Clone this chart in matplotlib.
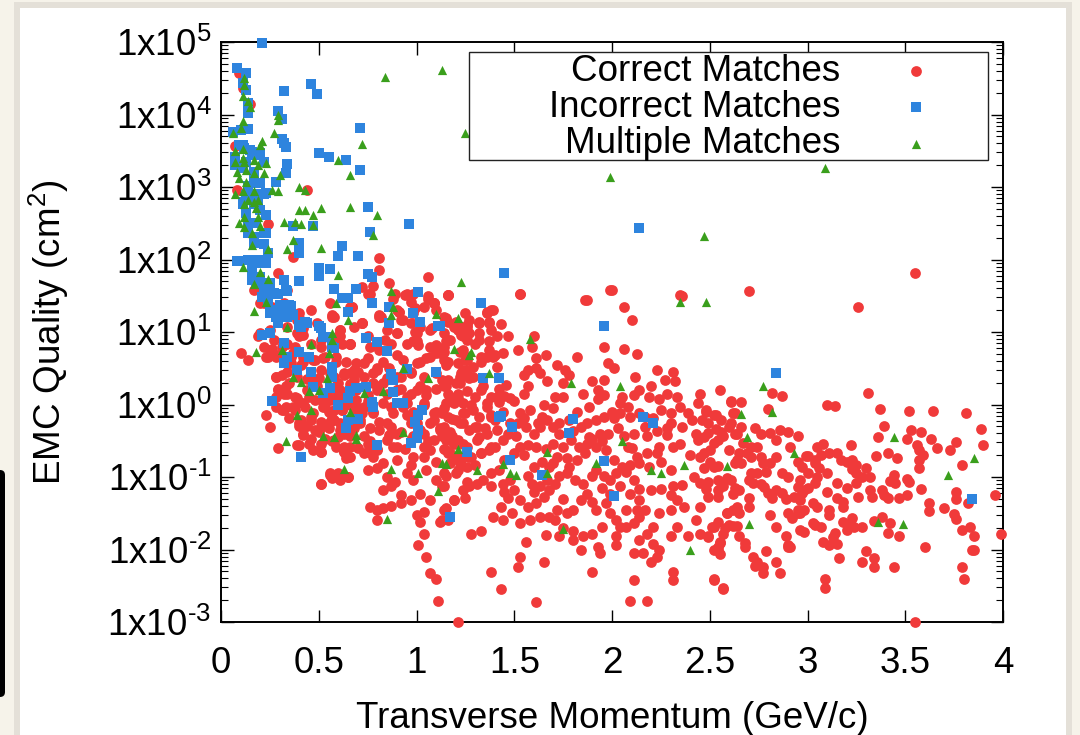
import numpy as np
import matplotlib.pyplot as plt
from matplotlib.patches import Rectangle, FancyBboxPatch
from matplotlib.ticker import LogLocator, FuncFormatter, NullFormatter

plt.rcParams['font.family'] = ['Liberation Sans', 'DejaVu Sans']
plt.rcParams['mathtext.default'] = 'regular'

# (transverse momentum [GeV/c], log10 of EMC quality [cm^2])
correct = [
    # high outliers / upper left
    (0.09, 4.57), (0.11, 4.36), (0.15, 4.15), (0.07, 3.57), (0.08, 2.96), (0.44, 2.96), (0.24, 2.49),
    (0.37, 2.03), (0.81, 2.02), (0.29, 1.82), (0.81, 1.86), (1.06, 1.76), (0.86, 1.67), (0.78, 1.64),
    (0.72, 1.62), (0.76, 1.53), (0.89, 1.53), (0.94, 1.51), (0.98, 1.53), (1.16, 1.51), (1.06, 1.46),
    (1.09, 1.40), (0.82, 1.21), (0.91, 1.28), (0.99, 1.33), (0.72, 1.12), (0.57, 1.23), (0.67, 1.35),
    (0.34, 1.58), (0.20, 1.40), (0.40, 1.19), (1.21, 1.10), (1.26, 1.10), (0.17, 1.58), (1.53, 1.52),
    (1.87, 1.44), (2.00, 1.58), (2.36, 1.50), (2.70, 1.57), (3.26, 1.34), (3.55, 1.81), (1.21, -3.00),
    (3.55, -3.00),
    # left cluster
    (0.32, 1.40), (0.57, 1.21), (0.61, 1.03), (0.60, 0.94), (0.66, 0.83), (0.39, 0.98), (0.31, 0.80),
    (0.26, 0.77), (0.19, 0.94), (0.24, 0.66), (0.28, 0.66), (0.10, 0.71), (0.14, 0.61), (0.42, 0.96),
    (0.38, 0.80), (0.36, 0.66), (0.42, 0.66), (0.48, 0.61), (0.53, 0.66), (0.51, 0.80), (0.57, 0.87),
    (0.62, 0.84), (0.28, 0.38), (0.31, 0.41), (0.36, 0.57), (0.41, 0.55), (0.29, 0.20), (0.32, 0.15),
    (0.28, 0.11), (0.33, -0.03), (0.28, -0.03), (0.31, -0.08), (0.38, 0.11), (0.40, 0.04), (0.38, -0.08),
    (0.43, -0.03), (0.48, 0.06), (0.53, -0.03), (0.57, 0.09), (0.62, -0.08), (0.41, -0.21), (0.46, -0.17),
    (0.51, -0.24), (0.57, -0.19), (0.61, -0.26), (0.48, -0.35), (0.42, -0.40), (0.53, -0.47), (0.57, -0.51),
    (0.45, -0.54), (0.47, -0.63), (0.51, -0.65), (0.40, -0.56), (0.63, -0.65), (0.64, -0.74), (0.23, -0.14),
    (0.25, -0.31), (0.29, -0.60), (0.39, -0.56), (0.56, -0.97), (0.61, -0.97), (0.65, -1.00), (0.61, -1.04),
    (0.51, -1.10), (0.32, -0.08), (0.40, -0.30), (0.42, -0.42),
    # 0.2 - 1.3 GeV/c band
    (0.22, 1.40), (0.26, 1.35), (0.31, 1.37), (0.40, 1.26), (0.46, 1.30), (0.56, 1.40), (0.66, 1.35),
    (0.72, 1.12), (0.81, 1.21), (0.90, 1.30), (0.93, 1.17), (0.98, 1.26), (1.04, 1.35), (1.09, 1.40),
    (1.14, 1.21), (1.21, 1.07), (1.25, 1.26),
    (0.20, 0.98), (0.25, 1.03), (0.34, 1.07), (0.39, 1.17), (0.42, 1.05), (0.49, 1.12), (0.61, 1.03),
    (0.68, 1.07), (0.75, 0.94), (0.85, 1.03), (0.90, 0.98), (0.97, 1.12), (1.00, 0.98), (1.07, 1.03),
    (1.14, 0.98), (1.19, 1.07), (1.24, 0.94),
    (0.22, 0.80), (0.25, 0.75), (0.27, 0.89), (0.34, 0.84), (0.40, 0.94), (0.46, 0.84), (0.51, 0.89),
    (0.58, 0.91), (0.66, 0.84), (0.76, 0.80), (0.81, 0.75), (0.87, 0.84), (0.95, 0.84), (1.00, 0.87),
    (1.07, 0.80), (1.14, 0.80), (1.17, 0.89), (1.24, 0.75),
    (0.23, 0.66), (0.29, 0.68), (0.37, 0.71), (0.42, 0.59), (0.47, 0.61), (0.52, 0.64), (0.59, 0.66),
    (0.64, 0.59), (0.69, 0.57), (0.75, 0.64), (0.83, 0.59), (0.90, 0.68), (0.93, 0.61), (1.00, 0.57),
    (1.05, 0.64), (1.10, 0.71), (1.14, 0.61), (1.21, 0.57), (1.26, 0.66),
    (0.28, 0.38), (0.34, 0.45), (0.39, 0.38), (0.46, 0.34), (0.51, 0.48), (0.56, 0.43), (0.63, 0.41),
    (0.68, 0.48), (0.73, 0.38), (0.80, 0.48), (0.85, 0.36), (0.92, 0.38), (0.97, 0.45), (1.04, 0.38),
    (1.10, 0.43), (1.16, 0.34), (1.22, 0.29), (1.26, 0.48),
    (0.29, 0.22), (0.34, 0.15), (0.39, 0.09), (0.44, 0.20), (0.49, 0.25), (0.54, 0.15), (0.59, 0.22),
    (0.64, 0.11), (0.69, 0.20), (0.75, 0.13), (0.80, 0.25), (0.85, 0.15), (0.90, 0.20), (0.95, 0.11),
    (1.00, 0.20), (1.05, 0.13), (1.10, 0.22), (1.16, 0.15), (1.21, 0.09), (1.26, 0.18),
    (0.37, -0.03), (0.42, 0.02), (0.47, -0.12), (0.52, -0.03), (0.58, -0.08), (0.63, 0.02), (0.68, -0.12),
    (0.73, -0.03), (0.78, -0.10), (0.83, 0.02), (0.88, -0.12), (0.93, -0.03), (0.98, -0.10), (1.04, -0.01),
    (1.09, -0.12), (1.14, -0.05), (1.19, 0.02), (1.24, -0.12),
    (0.40, -0.26), (0.46, -0.21), (0.51, -0.31), (0.56, -0.24), (0.61, -0.35), (0.66, -0.26), (0.71, -0.21),
    (0.76, -0.33), (0.81, -0.24), (0.87, -0.31), (0.92, -0.38), (0.97, -0.26), (1.02, -0.35), (1.07, -0.26),
    (1.12, -0.33), (1.17, -0.38), (1.22, -0.26), (1.27, -0.35),
    (0.46, -0.47), (0.51, -0.54), (0.58, -0.49), (0.63, -0.58), (0.66, -0.44), (0.75, -0.54), (0.80, -0.61),
    (0.85, -0.49), (0.90, -0.58), (0.98, -0.44), (1.04, -0.58), (1.09, -0.49), (1.14, -0.61), (1.19, -0.54),
    (1.26, -0.58),
    (0.51, -0.65), (0.63, -0.65), (0.65, -0.72), (0.75, -0.65), (0.78, -0.72), (0.83, -0.81), (0.90, -0.77),
    (0.97, -0.83), (1.04, -0.72), (1.10, -0.79), (1.17, -0.67), (1.22, -0.81), (1.27, -0.72),
    (0.56, -0.95), (0.57, -1.02), (0.60, -0.95), (0.65, -1.00), (0.75, -0.90), (0.80, -0.88), (0.85, -1.00),
    (0.89, -1.07), (0.95, -0.95), (0.98, -1.04), (1.05, -0.90), (1.10, -1.04), (1.14, -0.95), (1.21, -0.90),
    (1.26, -1.07),
    (0.51, -1.10), (0.83, -1.18), (0.87, -1.13), (0.92, -1.25), (0.97, -1.32), (1.02, -1.23), (1.07, -1.32),
    (1.14, -1.13), (1.19, -1.32), (1.24, -1.18),
    (0.76, -1.41), (0.80, -1.46), (0.83, -1.43), (0.87, -1.40), (0.92, -1.36), (1.00, -1.52), (1.04, -1.48),
    (1.14, -1.46), (1.16, -1.59), (1.12, -1.62),
    (0.80, -1.59), (1.02, -1.62), (1.04, -1.78), (1.01, -1.94), (1.05, -2.11), (1.07, -2.32), (1.10, -2.41),
    (1.11, -2.71),
    # 0.55 - 1.4 GeV/c, upper part
    (0.75, 1.53), (0.88, 1.46), (0.95, 1.53), (1.06, 1.49), (1.16, 1.51), (0.67, 1.35), (0.81, 1.23),
    (0.91, 1.28), (0.97, 1.42), (1.09, 1.40), (1.10, 1.30), (1.36, 1.28), (1.39, 1.30), (1.27, 1.17),
    (1.32, 1.14), (0.92, 1.17), (1.02, 1.07), (1.08, 1.05), (1.16, 1.14), (0.58, 1.21), (0.72, 1.12),
    (1.37, 1.14),
    (0.66, 0.84), (0.84, 0.89), (0.90, 0.98), (0.99, 1.00), (0.98, 0.87), (1.01, 0.82), (1.10, 0.82),
    (1.16, 0.89), (1.22, 1.07), (1.27, 0.98), (1.32, 0.89), (1.38, 1.03), (1.41, 0.94), (1.22, 0.73),
    (1.26, 0.61), (1.29, 0.52), (1.33, 0.66), (1.39, 0.66), (1.41, 0.52), (1.07, 0.66), (1.12, 0.71),
    (1.16, 0.59), (1.02, 0.59), (0.97, 0.43), (0.90, 0.38), (0.80, 0.50), (0.73, 0.57), (0.66, 0.43),
    (0.59, 0.59), (0.61, 0.94), (1.23, 0.43), (1.27, 0.36), (1.34, 0.25),
    (0.58, 0.38), (0.63, 0.43), (0.68, 0.34), (0.78, 0.43), (0.83, 0.29), (0.61, 0.20), (0.56, 0.06),
    (0.62, -0.08), (0.69, 0.06), (0.80, 0.20), (0.90, 0.20), (0.97, 0.15), (1.02, 0.25), (1.05, 0.20),
    (1.14, 0.25), (1.17, 0.11), (1.24, 0.02), (1.29, -0.08), (1.36, 0.02), (1.38, -0.17), (1.31, -0.31),
    (1.24, -0.26), (1.16, -0.17), (1.09, -0.21), (1.04, 0.02), (0.95, 0.02), (0.87, -0.03), (0.78, -0.12),
    (0.71, -0.26), (0.63, -0.40), (0.59, -0.58), (0.66, -0.58), (0.73, -0.44), (0.81, -0.35), (0.90, -0.40),
    (0.97, -0.49), (1.04, -0.40), (1.12, -0.35), (1.17, -0.49), (1.24, -0.54), (1.31, -0.49), (1.36, -0.40),
    (1.41, -0.35), (1.38, -0.58), (1.33, -0.67), (1.24, -0.72), (1.16, -0.67), (1.07, -0.63), (0.98, -0.72),
    (0.88, -0.58), (0.80, -0.63), (0.73, -0.67), (0.66, -0.72), (0.58, -0.21), (1.00, -0.26), (0.85, -0.26),
    (1.41, 0.11),
    # dense core, extra points
    (0.35, 0.30), (0.44, 0.35), (0.50, 0.36), (0.60, 0.30), (0.66, 0.28), (0.33, 0.25), (0.45, 0.10),
    (0.52, 0.05), (0.55, -0.10), (0.60, 0.12), (0.66, 0.00), (0.70, -0.05), (0.35, -0.18), (0.44, -0.30),
    (0.50, -0.38), (0.55, -0.33), (0.60, -0.45), (0.68, -0.33), (0.72, -0.12), (0.75, 0.05), (0.78, 0.30),
    (0.70, 0.45), (0.86, 0.50), (0.92, 0.22), (0.95, -0.15), (0.86, -0.42), (0.76, -0.50), (0.70, -0.60),
    (0.94, -0.62), (1.06, -0.50), (1.10, -0.10), (1.20, 0.30), (1.18, -0.20), (1.30, 0.10), (1.32, -0.45),
    (1.45, 0.12), (1.50, 0.05), (1.55, 0.15), (1.48, -0.25), (1.62, -0.25), (1.70, -0.05), (1.75, 0.10),
    (1.85, 0.15), (1.88, -0.45), (1.95, -0.50), (2.00, -0.10), (2.05, 0.10), (2.20, 0.25), (2.28, 0.15),
    (2.10, -0.60), (2.35, -0.55), (2.40, -0.70), (2.30, -0.90), (2.42, -1.00), (1.70, -0.80), (1.55, -0.70),
    (1.45, -1.20), (1.60, -1.20), (1.75, -1.30), (1.95, -1.15), (2.30, -0.25), (2.45, 0.15), (2.55, 0.20),
    # 1.1 - 2.65 GeV/c
    (1.16, 1.51), (1.53, 1.52), (1.86, 1.44), (1.99, 1.58), (2.06, 1.34), (2.10, 1.17), (2.35, 1.51),
    (1.38, 1.31), (1.36, 1.26), (1.43, 1.11), (1.32, 1.13), (1.37, 1.12), (1.26, 1.07), (1.15, 1.20),
    (1.20, 1.14), (1.21, 1.03), (1.23, 0.96), (1.15, 0.88), (1.26, 0.89), (1.30, 0.84), (1.37, 0.87),
    (1.32, 0.98), (1.47, 0.94), (1.60, 0.94), (1.59, 0.80), (1.52, 0.75), (1.37, 0.75), (1.36, 0.66),
    (1.40, 0.68), (1.44, 0.71), (1.33, 0.59), (1.25, 0.61), (1.24, 0.48), (1.29, 0.38), (1.22, 0.38),
    (1.15, 0.54), (1.14, 0.73), (1.13, 0.34), (1.15, 0.25), (1.21, 0.15), (1.17, 0.11), (1.15, 0.02),
    (1.13, -0.12), (1.14, -0.31), (1.20, -0.21), (1.25, -0.12), (1.28, -0.01), (1.33, 0.20), (1.38, 0.11),
    (1.42, 0.22), (1.46, 0.27), (1.48, 0.09), (1.42, 0.04), (1.36, -0.03), (1.32, -0.17), (1.30, -0.31),
    (1.35, -0.33), (1.38, -0.15), (1.40, -0.21), (1.44, -0.10), (1.53, -0.12), (1.52, -0.26), (1.56, -0.31),
    (1.55, -0.19), (1.58, -0.08), (1.64, -0.17), (1.65, -0.01), (1.71, 0.11), (1.75, 0.29), (1.78, 0.41),
    (1.76, 0.48), (1.72, 0.55), (1.66, 0.68), (1.61, 0.64), (1.61, 0.50), (1.63, 0.43), (1.67, 0.32),
    (1.57, 0.25), (1.55, 0.41), (1.57, 0.48), (1.82, 0.65), (1.90, 0.33), (1.96, 0.34), (1.93, 0.20),
    (1.96, 0.13), (1.98, 0.57), (2.01, 0.50), (1.96, 0.80), (2.06, 0.77), (2.13, 0.70), (2.23, 0.48),
    (2.31, 0.45), (2.32, 0.32), (2.27, 0.34), (2.12, 0.38), (2.14, 0.20), (2.11, 0.13), (2.19, 0.11),
    (2.24, 0.08), (2.33, 0.11), (2.35, -0.04), (2.30, -0.12), (2.25, -0.08), (2.21, -0.19), (2.17, -0.31),
    (2.18, -0.44), (2.23, -0.37), (2.28, -0.33), (2.28, -0.42), (2.31, -0.58), (2.24, -0.58), (2.23, -0.67),
    (2.25, -0.79), (2.19, -0.86), (2.14, -0.81), (2.18, -0.67), (2.13, -0.72), (2.09, -0.84), (2.07, -0.93),
    (2.11, -1.04), (2.14, -1.16), (2.20, -1.18), (2.25, -1.16), (2.31, -1.13), (2.36, -1.11), (2.30, -1.25),
    (2.33, -1.32), (2.37, -1.41), (2.30, -1.46), (2.24, -1.50), (2.21, -1.69), (2.18, -1.78), (2.14, -1.87),
    (2.21, -1.92), (2.24, -2.01), (2.16, -2.05), (2.11, -2.05), (2.20, -2.17), (2.23, -2.10), (2.30, -1.82),
    (2.33, -1.69), (2.39, -1.82), (2.43, -1.59), (2.45, -1.78), (2.52, -1.69), (2.54, -1.96), (2.57, -1.78),
    (2.52, -2.01), (2.49, -1.82), (2.55, -1.89), (2.60, -1.66), (2.62, -1.46), (2.59, -1.50), (2.54, -1.27),
    (2.57, -1.13), (2.62, -1.23), (2.61, -1.04), (2.59, -1.02), (2.54, -1.04), (2.48, -1.16), (2.52, -0.86),
    (2.50, -0.79), (2.47, -0.67), (2.44, -0.49), (2.43, -0.40), (2.41, -0.21), (2.36, -0.31), (2.39, -0.12),
    (2.44, 0.02), (2.48, -0.08), (2.53, -0.14), (2.56, -0.21), (2.60, -0.31), (2.63, -0.12), (2.61, 0.04),
    (2.54, -0.49), (2.57, -0.44), (2.60, -0.63), (2.63, -0.81), (2.64, -0.40),
    (1.13, -0.44), (1.15, -0.49), (1.18, -0.44), (1.21, -0.49), (1.15, -0.63), (1.20, -0.72), (1.22, -0.79),
    (1.17, -0.81), (1.15, -0.99), (1.13, -1.13), (1.20, -0.95), (1.26, -0.86), (1.30, -0.83), (1.28, -0.72),
    (1.33, -0.67), (1.37, -0.63), (1.40, -0.58), (1.44, -0.49), (1.47, -0.40), (1.51, -0.44), (1.53, -0.58),
    (1.50, -0.67), (1.45, -0.77), (1.42, -0.90), (1.38, -0.95), (1.34, -1.04), (1.31, -1.09), (1.27, -1.13),
    (1.25, -1.29), (1.19, -1.32), (1.15, -1.43), (1.13, -1.59), (1.38, -1.13), (1.44, -1.09), (1.48, -1.04),
    (1.50, -1.18), (1.47, -1.29), (1.53, -1.32), (1.57, -1.41), (1.61, -1.36), (1.65, -1.27), (1.68, -1.18),
    (1.71, -1.09), (1.73, -0.99), (1.68, -0.86), (1.64, -0.79), (1.60, -0.86), (1.57, -0.99), (1.59, -1.09),
    (1.63, -1.13), (1.67, -1.04), (1.72, -0.72), (1.75, -0.58), (1.79, -0.49), (1.83, -0.58), (1.87, -0.54),
    (1.86, -0.67), (1.82, -0.77), (1.78, -0.86), (1.77, -0.95), (1.81, -1.04), (1.85, -1.09), (1.90, -0.99),
    (1.92, -0.90), (1.96, -0.99), (1.99, -1.04), (2.02, -0.95), (2.05, -0.86), (2.01, -0.77), (1.97, -0.63),
    (1.92, -0.58), (1.90, -0.47), (1.94, -0.40), (1.98, -0.40), (2.03, -0.33), (2.06, -0.44), (2.08, -0.58),
    (2.11, -0.40), (2.09, -0.17), (2.04, -0.12), (2.01, -0.19), (1.96, -0.17), (1.92, -0.21), (1.87, -0.26),
    (1.84, -0.31), (1.80, -0.37), (1.73, -0.40), (1.70, -0.31), (1.67, -0.21), (1.63, -0.31), (1.60, -0.40),
    (1.57, -0.56), (1.61, -0.58), (1.66, -0.61), (1.70, -0.54), (1.77, -0.74), (1.73, -0.26), (1.78, -0.21),
    (1.82, -0.10), (1.88, -0.03), (1.93, 0.08), (2.04, 0.02), (2.08, -0.03), (2.14, -0.12), (2.17, -0.17),
    (1.87, -1.23), (1.90, -1.34), (1.84, -1.32), (1.80, -1.46), (1.77, -1.50), (1.72, -1.46), (1.68, -1.55),
    (1.63, -1.55), (1.58, -1.59), (1.53, -1.64), (1.49, -1.50), (1.44, -1.59), (1.39, -1.55), (1.33, -1.75),
    (1.28, -1.78), (1.43, -1.41), (1.92, -1.46), (1.97, -1.36), (1.99, -1.50), (1.95, -1.69), (1.90, -1.78),
    (1.85, -1.82), (1.80, -1.87), (1.75, -1.71), (1.71, -1.59), (1.73, -1.82), (1.80, -1.75), (2.02, -1.59),
    (2.04, -1.69), (2.02, -1.82), (2.02, -1.94), (2.07, -1.46), (2.13, -1.46), (2.07, -1.69), (2.14, -1.55),
    (2.11, -1.64), (1.99, -1.23), (2.04, -1.13), (2.09, -1.23), (2.14, -1.32), (2.17, -1.46), (1.93, -1.96),
    (1.84, -2.01), (1.94, -2.05), (1.56, -1.89), (1.53, -2.10), (1.52, -2.24), (1.66, -1.80), (1.65, -2.17),
    (1.38, -2.31), (1.43, -2.54), (1.61, -2.72), (1.90, -2.31), (2.09, -2.71), (2.18, -2.71), (2.11, -2.42),
    (2.31, -2.31), (2.31, -2.42), (2.52, -2.42), (2.57, -2.54),
    # 2.45 - 4 GeV/c
    (2.82, 0.16), (2.87, 0.12), (2.61, 0.05), (2.66, 0.03), (2.80, -0.06), (3.31, 0.16), (3.10, -0.01),
    (3.14, -0.02), (3.37, -0.06), (3.52, -0.09), (3.64, -0.09), (3.81, -0.12), (3.39, -0.30), (3.89, -0.34),
    (3.90, -0.56), (3.53, -0.35), (3.58, -0.38), (3.63, -0.48), (3.66, -0.60), (3.73, -0.63), (3.76, -0.52),
    (3.79, -0.83), (3.51, -0.48), (3.56, -0.56), (3.57, -0.63), (3.59, -0.70), (3.57, -0.77), (3.57, -0.88),
    (3.36, -0.45), (3.41, -0.67), (3.46, -0.74), (3.22, -0.56), (3.35, -0.71), (3.44, -0.97), (3.45, -1.08),
    (3.42, -1.06), (3.51, -1.03), (3.52, -1.07), (3.58, -1.17), (3.47, -1.29), (3.51, -1.25), (3.76, -1.21),
    (3.76, -1.30), (3.82, -1.36), (3.62, -1.36), (3.62, -1.47), (3.70, -1.43), (3.75, -1.51), (3.76, -1.58),
    (3.79, -1.73), (3.83, -1.69), (3.85, -1.81), (3.60, -1.97), (3.79, -2.24), (3.80, -2.41), (3.84, -2.01),
    (3.85, -2.01), (3.99, -1.79), (3.96, -1.25),
    (3.08, -0.54), (3.11, -0.67), (3.07, -0.70), (3.04, -0.77), (3.00, -0.71), (2.95, -0.79), (2.97, -0.86),
    (3.15, -0.67), (3.17, -0.77), (3.20, -0.79), (3.23, -0.89), (3.25, -0.94), (3.28, -1.00), (3.32, -1.00),
    (3.30, -0.88), (3.25, -0.83), (3.23, -0.77), (3.15, -1.08), (3.20, -1.15), (3.25, -1.08), (3.26, -1.28),
    (3.32, -1.18), (3.33, -1.28), (3.38, -1.18), (3.39, -1.25), (3.41, -1.29), (3.10, -1.21), (3.15, -1.29),
    (3.18, -1.34), (3.18, -1.41), (3.11, -1.46), (3.11, -1.52), (3.05, -1.41), (3.03, -1.36), (2.98, -1.46),
    (2.95, -1.50), (2.92, -1.57), (2.90, -1.50), (3.18, -1.62), (3.22, -1.66), (3.20, -1.73), (3.23, -1.57),
    (3.24, -1.69), (3.28, -1.69), (3.34, -1.61), (3.38, -1.55), (3.42, -1.63), (3.41, -1.77), (3.47, -1.81),
    (3.03, -1.63), (3.07, -1.69), (3.08, -1.90), (3.11, -1.94), (3.15, -1.92), (3.16, -2.12), (3.14, -1.77),
    (3.13, -1.83), (3.30, -2.02), (3.28, -2.17), (3.34, -2.12), (3.34, -2.24), (3.44, -2.24), (3.09, -2.41),
    (3.09, -2.53),
    (2.48, -0.10), (2.52, -0.14), (2.49, -0.26), (2.46, -0.21), (2.53, -0.34), (2.56, -0.38), (2.49, -0.39),
    (2.47, -0.45), (2.52, -0.53), (2.50, -0.63), (2.45, -0.72), (2.47, -0.88), (2.54, -0.85), (2.61, -0.26),
    (2.63, -0.41), (2.62, -0.12), (2.66, -0.31), (2.67, -0.53), (2.71, -0.59), (2.73, -0.32), (2.76, -0.41),
    (2.65, -0.67), (2.69, -0.67), (2.64, -0.77), (2.66, -0.81), (2.71, -0.72), (2.76, -0.72), (2.74, -0.59),
    (2.81, -0.39), (2.86, -0.35), (2.90, -0.38), (2.95, -0.43), (2.84, -0.49), (2.91, -0.59), (2.84, -0.72),
    (2.81, -0.81), (2.77, -0.81), (2.79, -0.93), (2.74, -0.94), (2.71, -0.94), (2.70, -1.04), (2.72, -1.08),
    (2.76, -1.10), (2.78, -1.14), (2.80, -1.22), (2.82, -1.29), (2.84, -1.18), (2.87, -1.22), (2.89, -1.30),
    (2.87, -0.94), (2.90, -1.00), (2.99, -0.71), (3.04, -0.81), (3.05, -1.00), (3.00, -0.94), (2.96, -1.04),
    (2.95, -1.14), (2.98, -1.18), (2.97, -1.22), (2.93, -1.28), (2.96, -1.32), (3.00, -1.15), (3.04, -1.08),
    (3.06, -0.88), (3.10, -0.94), (3.05, -0.59),
    (2.45, -1.08), (2.49, -1.07), (2.49, -1.28), (2.45, -1.41), (2.54, -1.18), (2.56, -1.08), (2.63, -1.15),
    (2.65, -1.18), (2.70, -1.29), (2.59, -1.50), (2.64, -1.41), (2.65, -1.50), (2.70, -1.41), (2.64, -1.68),
    (2.62, -1.68), (2.81, -1.52), (2.84, -1.69), (2.89, -1.81), (2.91, -1.97), (2.90, -1.94), (2.95, -1.46),
    (2.96, -1.50), (2.96, -1.73), (2.98, -1.76), (3.04, -1.66),
    (2.51, -1.69), (2.54, -1.62), (2.58, -1.70), (2.49, -1.83), (2.55, -1.91), (2.54, -2.01), (2.55, -2.06),
    (2.65, -1.81), (2.68, -1.91), (2.68, -1.97), (2.72, -2.10), (2.74, -2.17), (2.73, -2.23), (2.77, -2.24),
    (2.77, -2.32), (2.79, -2.02), (2.84, -2.17), (2.86, -2.32), (2.52, -2.41), (2.57, -2.53), (2.90, -1.97),
]

incorrect = [
    (0.21, 4.99), (0.08, 4.64), (0.13, 4.57), (0.11, 4.43), (0.13, 4.34), (0.46, 4.42), (0.49, 4.28),
    (0.32, 4.32), (0.14, 4.16), (0.29, 4.05), (0.31, 3.94), (0.14, 4.02), (0.06, 3.76), (0.10, 3.79),
    (0.14, 3.80), (0.71, 3.81), (0.31, 3.66), (0.32, 3.61), (0.33, 3.55), (0.50, 3.47), (0.55, 3.41),
    (0.64, 3.37), (0.71, 3.23), (0.34, 3.32), (0.33, 3.19), (0.28, 3.07),
    (0.09, 3.58), (0.12, 3.54), (0.16, 3.48), (0.20, 3.47), (0.07, 3.30), (0.11, 3.26), (0.17, 3.21),
    (0.18, 3.06), (0.23, 2.92), (0.13, 2.89), (0.11, 2.79), (0.19, 2.79),
    (0.11, 3.58), (0.15, 3.51), (0.18, 3.44), (0.22, 3.35), (0.13, 3.35), (0.07, 3.42), (0.11, 3.28),
    (0.17, 3.10), (0.14, 3.01), (0.20, 3.05), (0.18, 2.91), (0.22, 2.91), (0.11, 2.77), (0.17, 2.77),
    (0.13, 2.64), (0.20, 2.68), (0.23, 2.61), (0.14, 2.50), (0.18, 2.50), (0.23, 2.36), (0.17, 2.31),
    (0.22, 2.22), (0.24, 2.09), (0.14, 1.99), (0.18, 1.95), (0.23, 1.95), (0.16, 1.81), (0.20, 1.76),
    (0.25, 1.67), (0.22, 1.53), (0.29, 1.53), (0.34, 1.56), (0.24, 1.42), (0.30, 1.37), (0.35, 1.37),
    (0.25, 1.26), (0.32, 1.24), (0.37, 1.24), (0.29, 1.12), (0.40, 1.10), (0.44, 1.12),
    (0.75, 2.72), (0.96, 2.49), (0.37, 2.46), (0.47, 2.46), (0.76, 2.38), (0.40, 2.23), (0.40, 2.09),
    (0.62, 2.19), (0.60, 2.05), (0.70, 2.05), (0.08, 1.98), (0.50, 1.88), (0.50, 1.77), (0.56, 1.87),
    (0.40, 1.70), (0.75, 1.80), (0.77, 1.76), (0.58, 1.59), (0.69, 1.59), (0.62, 1.47), (0.65, 1.47),
    (0.77, 1.40), (1.01, 1.55), (0.65, 1.28), (0.86, 1.12), (0.98, 1.26), (1.02, 1.14), (1.11, 1.08),
    (0.50, 1.08),
    (0.14, 2.37), (0.22, 2.37), (0.17, 2.23), (0.09, 1.98), (0.15, 2.00), (0.19, 2.00), (0.16, 1.86),
    (0.21, 1.95), (0.16, 1.72), (0.18, 1.68), (0.22, 1.62), (0.21, 1.48), (0.27, 1.54), (0.33, 1.58),
    (0.32, 1.72), (0.25, 1.30), (0.30, 1.34), (0.36, 1.36), (0.28, 1.21), (0.34, 1.21), (0.21, 0.96),
    (0.25, 0.99), (0.43, 1.14), (0.41, 1.07), (0.32, 0.85), (0.34, 0.66), (0.40, 0.72), (0.45, 0.66),
    (0.51, 1.06), (0.55, 0.93), (0.52, 0.93), (0.57, 0.79),
    (0.26, 0.05), (0.41, -0.72), (0.32, 0.57), (0.39, 0.48), (0.46, 0.45), (0.57, 0.52), (0.57, 0.38),
    (0.47, 0.24), (0.56, 0.23), (0.52, 0.16), (0.60, 0.00), (0.66, 0.18), (0.65, -0.21), (0.64, -0.32),
    (0.86, 1.35), (0.74, 0.92), (0.80, 0.86), (0.85, 0.74), (0.58, 0.78), (0.87, 0.42), (0.88, 0.34),
    (0.95, 0.49), (1.10, 0.45), (1.34, 0.36), (1.42, 0.36), (0.69, 0.23), (0.74, 0.24), (0.65, 0.09),
    (0.77, 0.03), (0.78, -0.04), (0.88, 0.17), (0.90, 0.02), (0.93, 0.02), (1.03, -0.08), (1.01, -0.15),
    (0.70, -0.20), (0.99, -0.24), (1.01, -0.35), (1.00, -0.46), (0.97, -0.53), (0.80, -0.56), (1.42, -0.17),
    (1.33, 1.40), (1.96, 1.08), (1.43, -0.16), (1.49, -0.31), (1.80, -0.20), (1.78, -0.39), (2.16, -0.17),
    (2.21, -0.26), (1.26, -0.66), (1.48, -0.77), (1.64, -0.97), (1.96, -0.78), (2.01, -1.26), (1.17, -1.55),
    (1.12, 1.08), (2.14, 2.43), (1.45, 1.81), (2.84, 0.44), (3.84, -1.30),
]

multiple = [
    (1.13, 4.62), (0.84, 4.52), (1.25, 3.74), (1.99, 3.14), (3.09, 3.26), (2.47, 2.32), (1.23, 1.69),
    (2.35, 1.42), (2.48, 1.42),
    (0.12, 4.50), (0.12, 4.41), (0.11, 4.25), (0.14, 4.18), (0.15, 4.11), (0.29, 3.99), (0.29, 3.93),
    (0.11, 3.91), (0.10, 3.81), (0.06, 3.74), (0.27, 3.75), (0.21, 3.63), (0.20, 3.58), (0.07, 3.49),
    (0.11, 3.53), (0.11, 3.40), (0.07, 3.35), (0.12, 3.35), (0.17, 3.37), (0.23, 3.33), (0.19, 3.30),
    (0.08, 3.21), (0.13, 3.23), (0.17, 3.19), (0.22, 3.19), (0.09, 3.12), (0.13, 3.07), (0.11, 2.94),
    (0.07, 2.91), (0.17, 2.94), (0.19, 2.82), (0.14, 2.82), (0.30, 3.17), (0.26, 2.96), (0.29, 2.95),
    (0.40, 3.00), (0.43, 2.96), (0.60, 3.37), (0.66, 3.17), (0.72, 3.60),
    (0.12, 2.77), (0.17, 2.80), (0.12, 2.59), (0.18, 2.71), (0.19, 2.59), (0.09, 2.50), (0.12, 2.45),
    (0.20, 2.46), (0.16, 2.36), (0.32, 2.52), (0.38, 2.52), (0.41, 2.49), (0.47, 2.48), (0.40, 2.68),
    (0.43, 2.68), (0.47, 2.61), (0.51, 2.71), (0.16, 2.20), (0.24, 2.15), (0.37, 2.27), (0.34, 2.15),
    (0.51, 2.16), (0.11, 1.90), (0.20, 1.83), (0.24, 1.73), (0.17, 1.66), (0.60, 1.79), (0.23, 1.42),
    (0.17, 1.29), (0.59, 1.40), (0.65, 1.16), (0.34, 1.07), (0.46, 0.83), (0.57, 0.99), (0.57, 0.89),
    (0.55, 0.71), (0.31, 0.75), (0.18, 0.73),
    (0.66, 2.73), (0.80, 2.61), (0.78, 2.34), (0.87, 1.57), (0.88, 1.34), (0.87, 1.23), (1.10, 1.25),
    (1.21, 1.19),
    (1.19, 0.76), (0.93, 0.51), (1.06, 0.37), (1.27, 0.68), (0.37, 0.38), (0.41, 0.31), (0.45, 0.18),
    (0.50, 0.20), (0.54, 0.36), (0.66, -0.10), (0.73, 0.16), (0.83, 0.18), (0.39, -0.15), (0.46, -0.08),
    (0.52, -0.43), (0.58, -0.45), (0.69, -0.42), (0.69, -0.48), (0.93, -0.38), (0.33, -0.51), (1.21, -0.61),
    (1.13, -0.80), (1.15, -0.82), (0.63, -0.89), (0.87, -0.89), (1.01, -0.95), (1.11, -1.19), (0.85, -1.58),
    (1.58, 0.91), (1.28, 0.73), (1.37, 0.43), (1.79, 0.30), (2.04, 0.26), (2.05, -0.51), (1.67, -0.66),
    (1.31, -0.90), (1.44, -0.82), (1.48, -0.95), (1.51, -0.97), (1.67, -0.95), (1.92, -0.80), (2.20, -0.91),
    (2.25, -0.94), (2.37, -0.84), (2.59, -0.85), (1.75, -1.72), (2.40, -2.00),
    (2.77, 0.26), (2.66, -0.13), (2.82, -0.10), (2.69, -0.45), (2.93, -0.67), (3.44, -0.45), (3.85, -0.74),
    (3.72, -0.97), (2.70, -1.65), (3.36, -1.62), (3.49, -1.65),
]

x_ticks = [0, 0.5, 1, 1.5, 2, 2.5, 3, 3.5, 4]

correct = np.array(correct)
incorrect = np.array(incorrect)
multiple = np.array(multiple)


def decade_label(v, pos):
    e = int(round(np.log10(v)))
    # gnuplot writes the exponent with a plain hyphen
    return '1x10$^{%s}$' % (str(e).replace('-', '\u2010'))


fig = plt.figure(figsize=(10.8, 7.35), dpi=100)
fig.patch.set_facecolor('#f6f3ea')

# page behind the plot: soft shadow, white sheet, dark bar at the left edge
fig.patches.append(Rectangle((0.14, -0.1), 10.58, 7.43, transform=fig.dpi_scale_trans,
                             facecolor='#e4e0d8', edgecolor='none', zorder=-3))
fig.patches.append(Rectangle((0.20, -0.1), 10.46, 7.37, transform=fig.dpi_scale_trans,
                             facecolor='white', edgecolor='none', zorder=-2))
fig.patches.append(FancyBboxPatch((-0.2, 0.38), 0.25, 2.27, transform=fig.dpi_scale_trans,
                                  boxstyle='round,pad=0,rounding_size=0.05',
                                  facecolor='black', edgecolor='none', zorder=-2))

ax = fig.add_axes([221 / 1080, 1 - 622 / 735, 782 / 1080, 580 / 735])
ax.set_facecolor('white')

ax.scatter(correct[:, 0], 10 ** correct[:, 1], s=60, marker='o', color='#f03a3a',
           linewidths=0, label='Correct Matches', zorder=3, clip_on=False)
ax.scatter(incorrect[:, 0], 10 ** incorrect[:, 1], s=50, marker='s', color='#2e84de',
           linewidths=0, label='Incorrect Matches', zorder=4, clip_on=False)
ax.scatter(multiple[:, 0], 10 ** multiple[:, 1], s=44, marker='^', color='#3a9f1c',
           linewidths=0, label='Multiple Matches', zorder=5, clip_on=False)

ax.set_xlim(0, 4)
ax.set_yscale('log')
ax.set_ylim(1e-3, 1e5)
ax.set_xticks(x_ticks)
ax.xaxis.set_major_formatter(FuncFormatter(lambda v, p: f'{v:g}'))
ax.yaxis.set_major_locator(LogLocator(base=10, numticks=20))
ax.yaxis.set_minor_locator(LogLocator(base=10, subs=np.arange(2, 10), numticks=20))
ax.yaxis.set_minor_formatter(NullFormatter())
ax.yaxis.set_major_formatter(FuncFormatter(decade_label))

ax.tick_params(which='both', direction='in', top=True, right=True, colors='black')
ax.tick_params(which='major', length=9, width=1.0, labelsize=26.5)
ax.tick_params(which='minor', length=5, width=0.8)
ax.tick_params(axis='x', pad=17)
ax.tick_params(axis='y', pad=7)
for sp in ax.spines.values():
    sp.set_linewidth(1.4)

ax.set_xlabel('Transverse Momentum (GeV/c)', fontsize=26.5)
ax.set_ylabel('EMC Quality (cm$^{2}$)', fontsize=26.5)
ax.xaxis.set_label_coords(0.5, -0.136)
ax.yaxis.set_label_coords(-0.192, 0.5)

# opaque key box
ax.add_patch(Rectangle(((469 - 221) / 782, (622 - 160) / 580), (988 - 469) / 782, 108 / 580,
                       transform=ax.transAxes, facecolor='white', edgecolor='#222222',
                       linewidth=1.0, zorder=6, clip_on=False))
leg = ax.legend(loc='upper right', bbox_to_anchor=((934 - 221) / 782, (622 - 54) / 580),
                frameon=False, markerfirst=False, handlelength=1.0, handletextpad=1.55,
                labelspacing=0.03, borderpad=0, borderaxespad=0, fontsize=26.5,
                scatterpoints=1)
leg.set_zorder(7)

fig.savefig('out.png', dpi=100)
